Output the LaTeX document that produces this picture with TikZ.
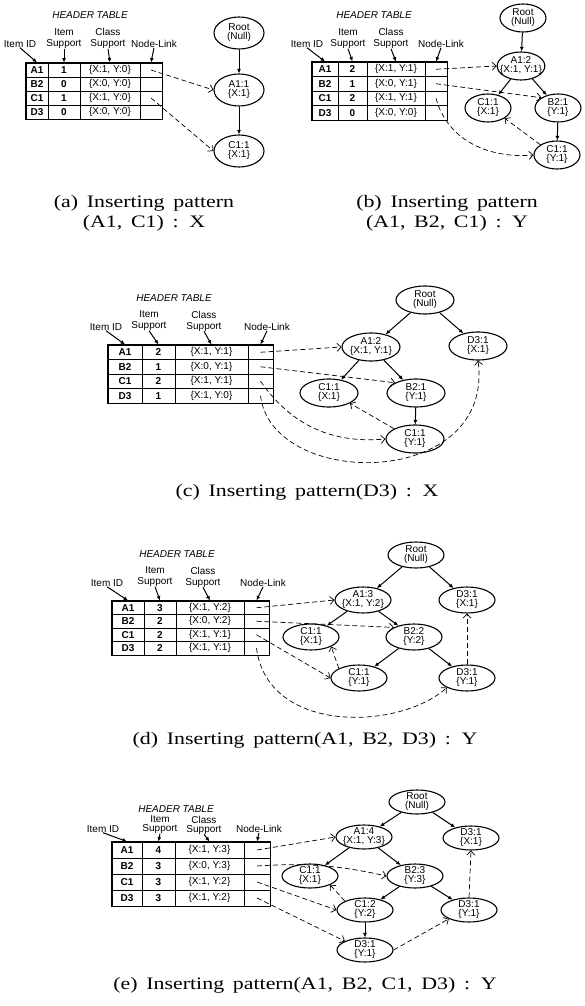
\documentclass[tikz,border=0pt]{standalone}
\usepackage{fontspec}
\usepackage{tikz}
\usetikzlibrary{arrows.meta,shapes.geometric}
\newfontfamily\dgfont{Liberation Sans}
\newfontfamily\capfont[FakeStretch=1.25,WordSpace=1.6]{Liberation Serif}

% header table: prefix, four column widths, row height, rows id/support/class
\newcommand{\hdrtable}[7]{%
  \foreach \iid/\isup/\icls [count=\rw] in {#7} {
    \node[cellb,minimum width=#2,minimum height=#6] (#1-\iid-id) at ({#2/2},{(\rw-0.5)*#6}) {\iid};
    \node[cellb,minimum width=#3,minimum height=#6] (#1-\iid-sup) at ({#2+#3/2},{(\rw-0.5)*#6}) {\isup};
    \node[cell,minimum width=#4,minimum height=#6] (#1-\iid-cls) at ({#2+#3+#4/2},{(\rw-0.5)*#6}) {\icls};
    \node[cell,minimum width=#5,minimum height=#6] (#1-\iid-lnk) at ({#2+#3+#4+#5/2},{(\rw-0.5)*#6}) {};
  }
  \draw[tblframe] (#1-A1-id.north west) rectangle (#1-D3-lnk.south east);
}

\begin{document}
\begin{tikzpicture}[x=1pt,y=-1pt,
  cell/.style={draw,line width=0.9pt,inner sep=0pt,font=\dgfont\fontsize{10}{11}\selectfont},
  cellb/.style={cell,font=\dgfont\bfseries\fontsize{10}{11}\selectfont},
  tblframe/.style={line width=1.5pt},
  hdr/.style={font=\dgfont\itshape\fontsize{10}{11}\selectfont},
  collbl/.style={align=center,inner sep=0pt,font=\dgfont\fontsize{10}{11}\selectfont},
  tnode/.style={ellipse,draw,line width=1.1pt,inner xsep=-4pt,inner ysep=-1pt,align=center,font=\dgfont\fontsize{10}{9}\selectfont},
  edge/.style={-{Latex[length=4.5pt,width=4pt]},line width=1pt},
  lbledge/.style={-{Latex[length=4.5pt,width=4pt]},line width=1pt},
  ptr/.style={-{Straight Barb[length=4pt,width=8pt]},line width=0.7pt,dash pattern=on 5pt off 3pt},
  caption/.style={align=center,font=\capfont\fontsize{17.5}{20}\selectfont}]
\path[use as bounding box] (0,0) rectangle (585,1006);

% (a)
\node[hdr] (a-hdr) at (90,15) {HEADER TABLE};
\node[collbl] (a-lid) at (20,44) {Item ID};
\node[collbl] (a-lsup) at (64,38.5) {Item\\Support};
\node[collbl] (a-lcls) at (108,38.5) {Class\\Support};
\node[collbl] (a-llnk) at (154,44) {Node-Link};
\begin{scope}[shift={(26,63)}]
\hdrtable{a}{22}{32}{60}{22}{14}{A1/1/{\{X:1, Y:0\}},B2/0/{\{X:0, Y:0\}},C1/1/{\{X:1, Y:0\}},D3/0/{\{X:0, Y:0\}}}
\end{scope}
\draw[lbledge] (a-lid.south) -- (a-A1-id.north);
\draw[lbledge] (a-lsup.south) -- (a-A1-sup.north);
\draw[lbledge] (a-lcls.south) -- (a-A1-cls.north);
\draw[lbledge] (a-llnk.south) -- (a-A1-lnk.north);
\begin{scope}[tnode/.append style={minimum width=50,minimum height=32}]
\node[tnode] (a-root) at (239,33) {Root\\(Null)};
\node[tnode] (a-A1) at (239,90) {A1:1\\\{X:1\}};
\node[tnode] (a-C1) at (239,151) {C1:1\\\{X:1\}};
\end{scope}
\draw[edge] (a-root) -- (a-A1);
\draw[edge] (a-A1) -- (a-C1);
\draw[ptr] (a-A1-lnk.center) -- (a-A1.west);
\draw[ptr] (a-C1-lnk.center) -- (a-C1.west);
\node[caption] (a-cap) at (144,213) {(a) Inserting pattern\\(A1, C1) : X};

% (b)
\node[hdr] (b-hdr) at (374,15) {HEADER TABLE};
\node[collbl] (b-lid) at (307,44) {Item ID};
\node[collbl] (b-lsup) at (348,38.5) {Item\\Support};
\node[collbl] (b-lcls) at (391,38.5) {Class\\Support};
\node[collbl] (b-llnk) at (441,44) {Node-Link};
\begin{scope}[shift={(312,62)}]
\hdrtable{b}{26}{29}{58}{22}{14.5}{A1/2/{\{X:1, Y:1\}},B2/1/{\{X:0, Y:1\}},C1/2/{\{X:1, Y:1\}},D3/0/{\{X:0, Y:0\}}}
\end{scope}
\draw[lbledge] (b-lid.south) -- (b-A1-id.north);
\draw[lbledge] (b-lsup.south) -- (b-A1-sup.north);
\draw[lbledge] (b-lcls.south) -- (b-A1-cls.north);
\draw[lbledge] (b-llnk.south) -- (b-A1-lnk.north);
\begin{scope}[tnode/.append style={minimum width=46,minimum height=28}]
\node[tnode] (b-root) at (523,18) {Root\\(Null)};
\node[tnode] (b-A1) at (521,66) {A1:2\\\{X:1, Y:1\}};
\node[tnode] (b-C1x) at (488,108) {C1:1\\\{X:1\}};
\node[tnode] (b-B2) at (558,108) {B2:1\\\{Y:1\}};
\node[tnode] (b-C1y) at (557,155) {C1:1\\\{Y:1\}};
\end{scope}
\draw[edge] (b-root) -- (b-A1);
\draw[edge] (b-A1) -- (b-C1x);
\draw[edge] (b-A1) -- (b-B2);
\draw[edge] (b-B2) -- (b-C1y);
\draw[ptr] (b-A1-lnk.center) -- (b-A1.west);
\draw[ptr] (b-B2-lnk.center) -- (b-B2.north west);
\draw[ptr] (b-C1-lnk.center) to[out=-75,in=185] (b-C1y.west);
\draw[ptr] (b-C1y.north west) -- (b-C1x.south east);
\node[caption] (b-cap) at (447,213) {(b) Inserting pattern\\(A1, B2, C1) : Y};

% (c)
\node[hdr] (c-hdr) at (174,298) {HEADER TABLE};
\node[collbl] (c-lid) at (106,327) {Item ID};
\node[collbl] (c-lsup) at (149,320.5) {Item\\Support};
\node[collbl] (c-lcls) at (204,321) {Class\\Support};
\node[collbl] (c-llnk) at (267,327) {Node-Link};
\begin{scope}[shift={(108,345)}]
\hdrtable{c}{34}{33}{73}{25}{14.5}{A1/2/{\{X:1, Y:1\}},B2/1/{\{X:0, Y:1\}},C1/2/{\{X:1, Y:1\}},D3/1/{\{X:1, Y:0\}}}
\end{scope}
\draw[lbledge] (c-lid.south) -- (c-A1-id.north);
\draw[lbledge] (c-lsup.south) -- (c-A1-sup.north);
\draw[lbledge] (c-lcls.south) -- (c-A1-cls.north);
\draw[lbledge] (c-llnk.south) -- (c-A1-lnk.north);
\begin{scope}[tnode/.append style={minimum width=58,minimum height=28}]
\node[tnode] (c-root) at (425,300) {Root\\(Null)};
\node[tnode] (c-A1) at (371,347) {A1:2\\\{X:1, Y:1\}};
\node[tnode] (c-D3x) at (478,346) {D3:1\\\{X:1\}};
\node[tnode] (c-C1x) at (329,393) {C1:1\\\{X:1\}};
\node[tnode] (c-B2) at (416,393) {B2:1\\\{Y:1\}};
\node[tnode] (c-C1y) at (415,439) {C1:1\\\{Y:1\}};
\end{scope}
\draw[edge] (c-root) -- (c-A1);
\draw[edge] (c-root) -- (c-D3x);
\draw[edge] (c-A1) -- (c-C1x);
\draw[edge] (c-A1) -- (c-B2);
\draw[edge] (c-B2) -- (c-C1y);
\draw[ptr] (c-A1-lnk.center) -- (c-A1.west);
\draw[ptr] (c-B2-lnk.center) -- (c-B2.north west);
\draw[ptr] (c-C1-lnk.center) to[out=-55,in=185] (c-C1y.west);
\draw[ptr] (c-D3-lnk.center) .. controls (272,490) and (495,490) .. (c-D3x.south);
\draw[ptr] (c-C1y.north west) -- (c-C1x.south east);
\node[caption] (c-cap) at (307,492) {(c) Inserting pattern(D3) : X};

% (d)
\node[hdr] (d-hdr) at (177,554) {HEADER TABLE};
\node[collbl] (d-lid) at (107,583) {Item ID};
\node[collbl] (d-lsup) at (155,576.5) {Item\\Support};
\node[collbl] (d-lcls) at (203,577) {Class\\Support};
\node[collbl] (d-llnk) at (263,583) {Node-Link};
\begin{scope}[shift={(112,601)}]
\hdrtable{d}{32}{32}{68}{25}{13.5}{A1/3/{\{X:1, Y:2\}},B2/2/{\{X:0, Y:2\}},C1/2/{\{X:1, Y:1\}},D3/2/{\{X:1, Y:1\}}}
\end{scope}
\draw[lbledge] (d-lid.south) -- (d-A1-id.north);
\draw[lbledge] (d-lsup.south) -- (d-A1-sup.north);
\draw[lbledge] (d-lcls.south) -- (d-A1-cls.north);
\draw[lbledge] (d-llnk.south) -- (d-A1-lnk.north);
\begin{scope}[tnode/.append style={minimum width=56,minimum height=26}]
\node[tnode] (d-root) at (416,555) {Root\\(Null)};
\node[tnode] (d-A1) at (363,600) {A1:3\\\{X:1, Y:2\}};
\node[tnode] (d-D3x) at (467,600) {D3:1\\\{X:1\}};
\node[tnode] (d-C1x) at (311,637) {C1:1\\\{X:1\}};
\node[tnode] (d-B2) at (414,637) {B2:2\\\{Y:2\}};
\node[tnode] (d-C1y) at (359,678) {C1:1\\\{Y:1\}};
\node[tnode] (d-D3y) at (467,678) {D3:1\\\{Y:1\}};
\end{scope}
\draw[edge] (d-root) -- (d-A1);
\draw[edge] (d-root) -- (d-D3x);
\draw[edge] (d-A1) -- (d-C1x);
\draw[edge] (d-A1) -- (d-B2);
\draw[edge] (d-B2) -- (d-C1y);
\draw[edge] (d-B2) -- (d-D3y);
\draw[ptr] (d-A1-lnk.center) -- (d-A1.west);
\draw[ptr] (d-B2-lnk.center) -- (d-B2.north west);
\draw[ptr] (d-C1-lnk.center) -- (d-C1y.west);
\draw[ptr] (d-D3-lnk.center) .. controls (268,735) and (400,730) .. (d-D3y.south west);
\draw[ptr] (d-C1y.north west) -- (d-C1x.south east);
\draw[ptr] (d-D3y.north) -- (d-D3x.south);
\node[caption] (d-cap) at (305,740) {(d) Inserting pattern(A1, B2, D3) : Y};

% (e)
\node[hdr] (e-hdr) at (176,809) {HEADER TABLE};
\node[collbl,font=\dgfont\fontsize{10}{9}\selectfont] (e-lid) at (103,829) {Item ID};
\node[collbl,font=\dgfont\fontsize{10}{9}\selectfont] (e-lsup) at (160,824.5) {Item\\Support};
\node[collbl,font=\dgfont\fontsize{10}{9}\selectfont] (e-lcls) at (204,825) {Class\\Support};
\node[collbl,font=\dgfont\fontsize{10}{9}\selectfont] (e-llnk) at (259,829) {Node-Link};
\begin{scope}[shift={(112,842)}]
\hdrtable{e}{30}{33}{69}{26}{16}{A1/4/{\{X:1, Y:3\}},B2/3/{\{X:0, Y:3\}},C1/3/{\{X:1, Y:2\}},D3/3/{\{X:1, Y:2\}}}
\end{scope}
\draw[lbledge] (e-lid.south) -- (e-A1-id.north);
\draw[lbledge] (e-lsup.south) -- (e-A1-sup.north);
\draw[lbledge] (e-lcls.south) -- (e-A1-cls.north);
\draw[lbledge] (e-llnk.south) -- (e-A1-lnk.north);
\begin{scope}[tnode/.append style={minimum width=56,minimum height=24}]
\node[tnode] (e-root) at (417,802) {Root\\(Null)};
\node[tnode] (e-A1) at (364,837) {A1:4\\\{X:1, Y:3\}};
\node[tnode] (e-D3x) at (471,838) {D3:1\\\{X:1\}};
\node[tnode] (e-C1x) at (310,876) {C1:1\\\{X:1\}};
\node[tnode] (e-B2) at (415,876) {B2:3\\\{Y:3\}};
\node[tnode] (e-C1y) at (365,910) {C1:2\\\{Y:2\}};
\node[tnode] (e-D3r) at (469,910) {D3:1\\\{Y:1\}};
\node[tnode] (e-D3b) at (365,950) {D3:1\\\{Y:1\}};
\end{scope}
\draw[edge] (e-root) -- (e-A1);
\draw[edge] (e-root) -- (e-D3x);
\draw[edge] (e-A1) -- (e-C1x);
\draw[edge] (e-A1) -- (e-B2);
\draw[edge] (e-B2) -- (e-C1y);
\draw[edge] (e-B2) -- (e-D3r);
\draw[edge] (e-C1y) -- (e-D3b);
\draw[ptr] (e-A1-lnk.center) -- (e-A1.west);
\draw[ptr] (e-B2-lnk.center) to[bend left=8] (e-B2.west);
\draw[ptr] (e-C1-lnk.center) -- (e-C1y.west);
\draw[ptr] (e-D3-lnk.center) -- (e-D3b.north west);
\draw[ptr] (e-C1y.north west) -- (e-C1x.south east);
\draw[ptr] (e-D3b.east) -- (e-D3r.south west);
\draw[ptr] (e-D3r.north) -- (e-D3x.south);
\node[caption] (e-cap) at (305,985) {(e) Inserting pattern(A1, B2, C1, D3) : Y};
\end{tikzpicture}
\end{document}
